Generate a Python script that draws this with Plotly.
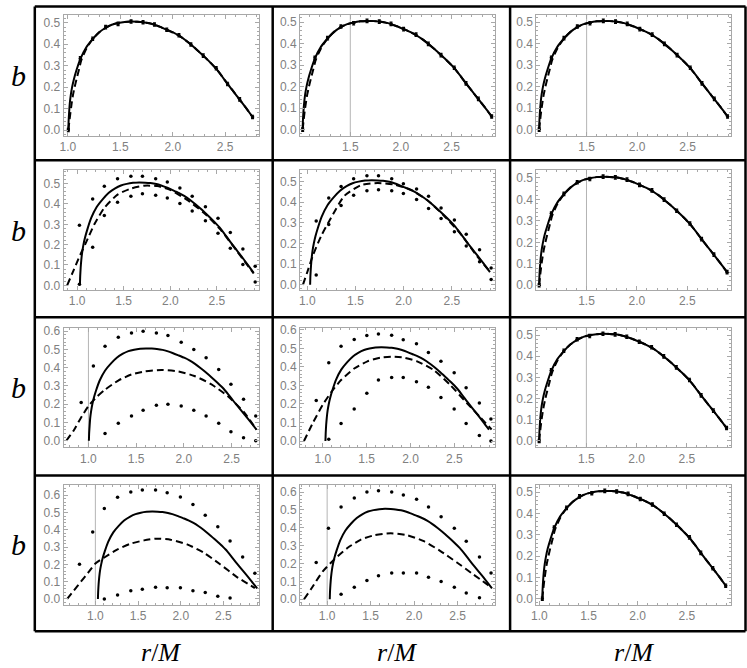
import plotly.graph_objects as go

# ---------------- data ----------------
# reference solid curve (most panels)
solid_a_x = [1.030, 1.033, 1.038, 1.045, 1.055, 1.068, 1.085, 1.110, 1.150, 1.210, 1.276, 1.340,
             1.408, 1.470, 1.533, 1.600, 1.665, 1.730, 1.786, 1.850, 1.902, 1.960, 2.026, 2.090,
             2.149, 2.210, 2.270, 2.330, 2.395, 2.460, 2.526, 2.585, 2.642, 2.700, 2.764, 2.830, 2.895]
solid_y = [0.000, 0.045, 0.085, 0.125, 0.165, 0.200, 0.235, 0.275, 0.330, 0.385, 0.424, 0.455,
           0.477, 0.491, 0.499, 0.504, 0.506, 0.505, 0.503, 0.498, 0.491, 0.481, 0.468, 0.455,
           0.440, 0.421, 0.399, 0.375, 0.347, 0.318, 0.286, 0.251, 0.215, 0.180, 0.142, 0.102, 0.061]
# solid curve of panels (1,1) and (3,1)
solid_b_x = [1.005, 1.008, 1.013, 1.019, 1.029, 1.041, 1.057, 1.080, 1.118, 1.175, 1.237, 1.297,
             1.361, 1.419, 1.479, 1.542, 1.603, 1.664, 1.717, 1.777, 1.826, 1.881, 1.943, 2.003,
             2.059, 2.116, 2.173, 2.229, 2.291, 2.352, 2.414, 2.469, 2.523, 2.578, 2.638, 2.700, 2.761]

# dashed curves that nearly coincide with the solid one
dash_a_x = [1.030, 1.040, 1.050, 1.062, 1.076, 1.092, 1.110, 1.132, 1.160, 1.215] + solid_a_x[10:]
dash_b_x = [1.005, 1.016, 1.026, 1.037, 1.050, 1.065, 1.082, 1.103, 1.128, 1.180] + solid_b_x[10:]
dash_near_y = [0.000, 0.045, 0.085, 0.125, 0.165, 0.200, 0.235, 0.275, 0.325, 0.382] + solid_y[10:]

# dots lying on the curve
dots_a_x = [1.030, 1.151, 1.276, 1.408, 1.533, 1.665, 1.786, 1.902, 2.026, 2.149, 2.270, 2.395,
            2.526, 2.642, 2.764, 2.895]
dots_b_x = [1.005, 1.119, 1.237, 1.361, 1.479, 1.603, 1.717, 1.826, 1.943, 2.059, 2.173, 2.291,
            2.414, 2.523, 2.638, 2.761]
dots_on_y = [0.000, 0.334, 0.426, 0.480, 0.495, 0.506, 0.503, 0.492, 0.468, 0.442, 0.399, 0.347,
             0.288, 0.215, 0.143, 0.061]

# panel (2,1)
r2c1_dash_x = [0.893, 0.954, 1.014, 1.096, 1.185, 1.292, 1.434, 1.577, 1.719, 1.861, 2.004, 2.181,
               2.359, 2.537, 2.715, 2.895]
r2c1_dash_y = [0.000, 0.065, 0.130, 0.211, 0.300, 0.381, 0.446, 0.476, 0.490, 0.488, 0.468, 0.420,
               0.357, 0.275, 0.168, 0.058]
r2c1_dot_x = [1.025, 1.167, 1.292, 1.434, 1.577, 1.701, 1.843, 1.968, 2.103, 2.235, 2.377, 2.512,
              2.644, 2.779, 2.911]
r2c1_up_y = [0.295, 0.425, 0.487, 0.524, 0.536, 0.536, 0.524, 0.508, 0.479, 0.438, 0.386, 0.330,
             0.260, 0.179, 0.094]
r2c1_lo_y = [0.005, 0.187, 0.344, 0.409, 0.438, 0.450, 0.443, 0.430, 0.403, 0.365, 0.317, 0.256,
             0.182, 0.102, 0.016]

# panel (2,2)
r2c2_dash_x = [0.955, 1.000, 1.058, 1.144, 1.247, 1.385, 1.557, 1.729, 1.900, 2.072, 2.244, 2.416,
               2.588, 2.759, 2.900]
r2c2_dash_y = [0.000, 0.061, 0.141, 0.236, 0.324, 0.430, 0.482, 0.492, 0.485, 0.460, 0.410, 0.335,
               0.248, 0.140, 0.060]
r2c2_dot_x = [1.093, 1.223, 1.351, 1.481, 1.619, 1.739, 1.876, 1.997, 2.134, 2.258, 2.388, 2.526,
              2.649, 2.787, 2.907]
r2c2_up_y = [0.308, 0.420, 0.476, 0.513, 0.527, 0.527, 0.513, 0.489, 0.463, 0.428, 0.372, 0.313,
             0.244, 0.169, 0.081]
r2c2_lo_y = [0.048, 0.292, 0.383, 0.433, 0.455, 0.460, 0.455, 0.441, 0.412, 0.369, 0.321, 0.257,
             0.188, 0.112, 0.026]

# panel (3,1)
r3c1_dash_x = [0.768, 0.844, 0.913, 1.000, 1.087, 1.174, 1.313, 1.451, 1.590, 1.764, 1.940, 2.110,
               2.285, 2.458, 2.632, 2.761]
r3c1_dash_y = [0.000, 0.055, 0.118, 0.190, 0.240, 0.280, 0.330, 0.363, 0.380, 0.388, 0.380, 0.355,
               0.310, 0.245, 0.155, 0.060]
r3c1_up_x = [0.924, 1.052, 1.174, 1.313, 1.451, 1.573, 1.712, 1.833, 1.972, 2.104, 2.233, 2.365,
             2.493, 2.625, 2.753]
r3c1_up_y = [0.209, 0.409, 0.518, 0.567, 0.590, 0.600, 0.590, 0.576, 0.540, 0.500, 0.455, 0.390,
             0.310, 0.227, 0.136]
r3c1_lo_x = [1.174, 1.313, 1.451, 1.573, 1.712, 1.833, 1.972, 2.104, 2.233, 2.365, 2.493, 2.625,
             2.753]
r3c1_lo_y = [0.040, 0.096, 0.135, 0.167, 0.195, 0.200, 0.190, 0.167, 0.135, 0.096, 0.049, 0.016,
             0.000]

# panel (3,2)
r3c2_dash_x = [0.785, 0.887, 1.000, 1.094, 1.208, 1.358, 1.509, 1.660, 1.790, 1.925, 2.075, 2.264,
               2.453, 2.642, 2.792, 2.925]
r3c2_dash_y = [0.000, 0.098, 0.196, 0.262, 0.329, 0.391, 0.430, 0.450, 0.455, 0.450, 0.430, 0.383,
               0.302, 0.205, 0.130, 0.062]
r3c2_up_x = [0.925, 1.068, 1.208, 1.358, 1.502, 1.634, 1.785, 1.917, 2.068, 2.204, 2.347, 2.498,
             2.634, 2.785, 2.917]
r3c2_up_y = [0.219, 0.422, 0.511, 0.548, 0.569, 0.578, 0.571, 0.546, 0.525, 0.477, 0.431, 0.368,
             0.288, 0.205, 0.119]
r3c2_lo_x = [1.068, 1.208, 1.358, 1.502, 1.634, 1.785, 1.917, 2.068, 2.204, 2.347, 2.498, 2.634,
             2.785, 2.917]
r3c2_lo_y = [0.009, 0.094, 0.173, 0.258, 0.329, 0.343, 0.343, 0.320, 0.290, 0.235, 0.173, 0.094,
             0.030, 0.000]

# panel (4,1)
r4c1_dash_x = [0.670, 0.750, 0.833, 0.920, 1.000, 1.105, 1.260, 1.415, 1.570, 1.705, 1.880, 2.074,
               2.268, 2.461, 2.655, 2.868]
r4c1_dash_y = [0.000, 0.050, 0.101, 0.155, 0.205, 0.240, 0.287, 0.320, 0.339, 0.349, 0.343, 0.316,
               0.268, 0.201, 0.128, 0.063]
r4c1_up_x = [0.814, 0.969, 1.105, 1.260, 1.415, 1.550, 1.705, 1.841, 1.996, 2.143, 2.287, 2.434,
             2.578, 2.725, 2.868]
r4c1_up_y = [0.201, 0.387, 0.523, 0.588, 0.619, 0.630, 0.630, 0.615, 0.590, 0.546, 0.485, 0.418,
             0.335, 0.243, 0.149]
r4c1_lo_x = [1.105, 1.260, 1.415, 1.550, 1.705, 1.841, 1.996, 2.143, 2.287, 2.434, 2.578]
r4c1_lo_y = [0.000, 0.023, 0.048, 0.056, 0.067, 0.065, 0.065, 0.048, 0.038, 0.015, 0.006]

# panel (4,2)
r4c2_dash_x = [0.734, 0.817, 0.950, 1.084, 1.236, 1.388, 1.540, 1.731, 1.921, 2.112, 2.302, 2.492,
               2.683, 2.884]
r4c2_dash_y = [0.000, 0.059, 0.156, 0.224, 0.288, 0.334, 0.358, 0.369, 0.358, 0.325, 0.270, 0.206,
               0.138, 0.068]
r4c2_up_x = [0.874, 1.015, 1.160, 1.312, 1.457, 1.590, 1.742, 1.876, 2.028, 2.165, 2.310, 2.462,
             2.599, 2.751, 2.884]
r4c2_up_y = [0.206, 0.398, 0.517, 0.567, 0.600, 0.607, 0.600, 0.583, 0.560, 0.517, 0.462, 0.398,
             0.325, 0.237, 0.147]
r4c2_lo_x = [1.160, 1.312, 1.457, 1.590, 1.742, 1.876, 2.028, 2.165, 2.310, 2.462, 2.599, 2.751]
r4c2_lo_y = [0.028, 0.068, 0.105, 0.132, 0.147, 0.147, 0.147, 0.123, 0.099, 0.068, 0.035, 0.009]

x_ticks = [1.0, 1.5, 2.0, 2.5]
x_label = "<i>r</i>/<i>M</i>"
y_label = "<i>b</i>"

# panel content: (solid_x, dashed_x, dashed_y, [(dot_x, dot_y)], tight_dots, guide_x)
panels = [
    (solid_b_x, dash_b_x, dash_near_y, [(dots_b_x, dots_on_y)], True, None),
    (solid_a_x, dash_a_x, dash_near_y, [(dots_a_x, dots_on_y)], True, 1.5),
    (solid_a_x, dash_a_x, dash_near_y, [(dots_a_x, dots_on_y)], True, 1.5),
    (solid_a_x, r2c1_dash_x, r2c1_dash_y, [(r2c1_dot_x, r2c1_up_y), (r2c1_dot_x, r2c1_lo_y)], False, None),
    (solid_a_x, r2c2_dash_x, r2c2_dash_y, [(r2c2_dot_x, r2c2_up_y), (r2c2_dot_x, r2c2_lo_y)], False, None),
    (solid_a_x, dash_a_x, dash_near_y, [(dots_a_x, dots_on_y)], True, 1.5),
    (solid_b_x, r3c1_dash_x, r3c1_dash_y, [(r3c1_up_x, r3c1_up_y), (r3c1_lo_x, r3c1_lo_y)], False, 1.0),
    (solid_a_x, r3c2_dash_x, r3c2_dash_y, [(r3c2_up_x, r3c2_up_y), (r3c2_lo_x, r3c2_lo_y)], False, None),
    (solid_a_x, dash_a_x, dash_near_y, [(dots_a_x, dots_on_y)], True, 1.5),
    (solid_a_x, r4c1_dash_x, r4c1_dash_y, [(r4c1_up_x, r4c1_up_y), (r4c1_lo_x, r4c1_lo_y)], False, 1.0),
    (solid_a_x, r4c2_dash_x, r4c2_dash_y, [(r4c2_up_x, r4c2_up_y), (r4c2_lo_x, r4c2_lo_y)], False, 1.0),
    (solid_a_x, dash_a_x, dash_near_y, [(dots_a_x, dots_on_y)], True, None),
]

# ---------------- layout (pixels) ----------------
W, H = 747, 668
col_px = [(59, 256), (297, 493), (535, 731)]
row_px = [(10, 132), (167, 288), (326, 447), (485, 606)]
x_ranges = [[0.96, 2.825], [1.004, 2.925], [1.003, 2.93],
            [0.855, 2.955], [0.925, 2.944], [1.003, 2.935],
            [0.74, 2.79], [0.74, 2.96], [1.003, 2.94],
            [0.628, 2.92], [0.688, 2.926], [0.97, 2.95]]
y_ranges = [[-0.026, 0.537], [-0.028, 0.534], [-0.028, 0.534],
            [-0.023, 0.566], [-0.025, 0.554], [-0.022, 0.536],
            [-0.036, 0.62], [-0.034, 0.612], [-0.03, 0.535],
            [-0.033, 0.66], [-0.03, 0.64], [-0.028, 0.534]]

FRAME = "#a8a8a8"
TICKFONT = dict(family="Liberation Sans, Arial, sans-serif", size=12, color="#808080")

fig = go.Figure()
layout = dict(width=W, height=H, margin=dict(l=0, r=0, t=0, b=0), autosize=False,
              paper_bgcolor="white", plot_bgcolor="white", showlegend=False)
shapes = []
annotations = []

for i, (sx, dx, dy, dots, tight, guide) in enumerate(panels):
    r, c = divmod(i, 3)
    n = "" if i == 0 else str(i + 1)
    xa, ya = "x" + n, "y" + n
    x0, x1 = col_px[c]
    y0, y1 = row_px[r]
    common = dict(showline=True, linecolor=FRAME, linewidth=1, mirror="allticks",
                  ticks="inside", ticklen=4, tickcolor=FRAME, tickwidth=1,
                  showgrid=False, zeroline=False, tickfont=TICKFONT, tickformat=".1f")
    layout["xaxis" + n] = dict(domain=[x0 / W, x1 / W], range=x_ranges[i], anchor=ya,
                               tickmode="array", tickvals=x_ticks,
                               minor=dict(ticks="inside", ticklen=2, dtick=0.1, tickcolor=FRAME),
                               **common)
    layout["yaxis" + n] = dict(domain=[1 - y1 / H, 1 - y0 / H], range=y_ranges[i], anchor=xa,
                               dtick=0.1, tick0=0,
                               minor=dict(ticks="inside", ticklen=2, dtick=0.02, tickcolor=FRAME),
                               **common)
    if guide is not None:
        shapes.append(dict(type="line", xref=xa, yref=ya + " domain", x0=guide, x1=guide,
                           y0=0, y1=1, line=dict(color="#b4b4b4", width=1), layer="below"))
    fig.add_trace(go.Scatter(x=sx, y=solid_y, mode="lines", xaxis=xa, yaxis=ya,
                             line=dict(color="black", width=2, shape="spline", smoothing=0.6)))
    fig.add_trace(go.Scatter(x=dx, y=dy, mode="lines", xaxis=xa, yaxis=ya,
                             line=dict(color="black", width=2, dash="7px,4px", shape="spline",
                                       smoothing=0.6)))
    for (px, py) in dots:
        kw = {}
        if tight:
            kw["error_y"] = dict(type="constant", value=0.008, width=1.5, thickness=1.2, color="black")
        fig.add_trace(go.Scatter(x=px, y=py, mode="markers", xaxis=xa, yaxis=ya,
                                 marker=dict(color="black", size=3.5), **kw))

# outer panel grid
vx = [30, 269.5, 508.5, 745.5]
hy = [1.5, 157, 315.5, 475.5, 633]
for x in vx:
    shapes.append(dict(type="line", xref="paper", yref="paper", x0=x / W, x1=x / W,
                       y0=1 - hy[0] / H, y1=1 - hy[-1] / H, line=dict(color="black", width=2.5)))
for y in hy:
    shapes.append(dict(type="line", xref="paper", yref="paper", x0=vx[0] / W, x1=vx[-1] / W,
                       y0=1 - y / H, y1=1 - y / H, line=dict(color="black", width=2.5)))

SERIF = "Liberation Serif, Times New Roman, serif"
for r in range(4):
    yc = (row_px[r][0] + row_px[r][1]) / 2
    annotations.append(dict(text=y_label, xref="paper", yref="paper", x=14 / W, y=1 - yc / H,
                            showarrow=False, xanchor="center", yanchor="middle",
                            font=dict(family=SERIF, size=30, color="black")))
for c in range(3):
    xc = (col_px[c][0] + col_px[c][1]) / 2
    annotations.append(dict(text=x_label, xref="paper", yref="paper", x=xc / W, y=1 - 654 / H,
                            showarrow=False, xanchor="center", yanchor="middle",
                            font=dict(family=SERIF, size=26, color="black")))

layout["shapes"] = shapes
layout["annotations"] = annotations
fig.update_layout(**layout)
fig.write_html("out.html", config=dict(displayModeBar=False, staticPlot=True),
               post_script="document.body.style.margin='0';document.body.style.overflow='hidden';")
